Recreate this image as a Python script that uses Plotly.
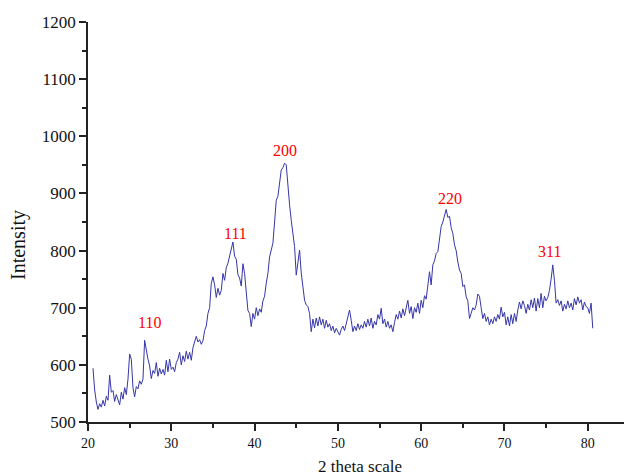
import plotly.graph_objects as go

# 2-theta angles (degrees), step 0.2 from 20.6 to 80.6
two_theta = [round(20.6 + 0.2 * i, 1) for i in range(301)]

intensity = [
    # 20.6 - 21.8
    594, 556, 535, 522, 532, 526, 538,
    # 22.0 - 23.8
    528, 545, 538, 582, 552, 555, 536, 548, 540, 530,
    # 24.0 - 25.8
    552, 540, 560, 548, 575, 619, 610, 560, 544, 562,
    # 26.0 - 27.8
    558, 572, 566, 575, 643, 625, 610, 598, 576, 590,
    # 28.0 - 29.8
    585, 604, 580, 594, 584, 592, 582, 608, 588, 610,
    # 30.0 - 31.8
    592, 596, 588, 604, 610, 622, 600, 616, 606, 624,
    # 32.0 - 33.8
    610, 622, 608, 630, 640, 650, 640, 644, 636, 642,
    # 34.0 - 35.8
    660, 668, 690, 700, 742, 754, 740, 718, 734, 722,
    # 36.0 - 37.8
    730, 760, 748, 770, 778, 790, 800, 815, 790, 785,
    # 38.0 - 39.8
    758, 752, 738, 777, 760, 720, 695, 690, 667, 690,
    # 40.0 - 41.8
    680, 700, 686, 698, 692, 712, 720, 743, 760, 789,
    # 42.0 - 43.8
    800, 813, 850, 888, 895, 920, 941, 945, 953, 950,
    # 44.0 - 45.8
    906, 880, 853, 830, 807, 757, 775, 801, 761, 735,
    # 46.0 - 47.8
    713, 705, 702, 690, 658, 680, 665, 682, 668, 684,
    # 48.0 - 49.8
    670, 680, 664, 678, 666, 672, 660, 668, 656, 664,
    # 50.0 - 51.8
    658, 652, 662, 668, 660, 672, 680, 696, 678, 658,
    # 52.0 - 53.8
    668, 660, 672, 662, 670, 664, 676, 666, 680, 668,
    # 54.0 - 55.8
    682, 664, 676, 670, 688, 680, 699, 672, 680, 666,
    # 56.0 - 57.8
    676, 664, 670, 658, 674, 688, 680, 694, 682, 698,
    # 58.0 - 59.8
    686, 700, 713, 690, 702, 681, 700, 692, 708, 690,
    # 60.0 - 61.8
    713, 700, 721, 715, 735, 763, 740, 775, 782, 795,
    # 62.0 - 63.8
    798, 818, 842, 850, 860, 872, 858, 860, 840, 830,
    # 64.0 - 65.8
    810, 800, 780, 766, 760, 737, 740, 719, 712, 681,
    # 66.0 - 67.8
    690, 700, 696, 705, 724, 720, 700, 681, 690, 676,
    # 68.0 - 69.8
    684, 670, 680, 672, 684, 676, 688, 680, 701, 684,
    # 70.0 - 71.8
    692, 670, 684, 668, 688, 672, 690, 676, 696, 710,
    # 72.0 - 73.8
    698, 712, 704, 690, 706, 696, 714, 700, 717, 694,
    # 74.0 - 75.8
    716, 700, 725, 700, 720, 712, 718, 730, 750, 775,
    # 76.0 - 77.8
    748, 708, 714, 704, 712, 694, 706, 698, 712, 700,
    # 78.0 - 79.8
    708, 696, 716, 705, 719, 708, 714, 696, 710, 702,
    # 80.0 - 80.6
    700, 690, 708, 664,
]

peak_labels = ["110", "111", "200", "220", "311"]
peak_x = [27.4, 37.7, 43.7, 63.4, 75.4]
peak_y = [674, 830, 975, 891, 799]

x_ticks = [20, 30, 40, 50, 60, 70, 80]
y_ticks = [500, 600, 700, 800, 900, 1000, 1100, 1200]

SERIF = "Liberation Serif, Times New Roman, serif"

fig = go.Figure()
fig.add_trace(go.Scatter(
    x=two_theta, y=intensity, mode="lines",
    line=dict(color="#3636a8", width=1),
    showlegend=False, hoverinfo="skip",
))

annotations = []
for lab, px_, py_ in zip(peak_labels, peak_x, peak_y):
    annotations.append(dict(
        x=px_, y=py_, xref="x", yref="y", text=lab, showarrow=False,
        font=dict(family=SERIF, size=16, color="#ff0000"),
        xanchor="center", yanchor="middle",
    ))

# axis titles
annotations.append(dict(
    x=0.507, y=-0.112, xref="paper", yref="paper", text="2 theta scale",
    showarrow=False, font=dict(family=SERIF, size=17, color="#111111"),
    xanchor="center", yanchor="middle",
))
annotations.append(dict(
    x=-0.1306, y=0.4425, xref="paper", yref="paper", text="Intensity",
    showarrow=False, textangle=-90, font=dict(family=SERIF, size=20, color="#111111"),
    xanchor="center", yanchor="middle",
))

fig.update_layout(
    width=624, height=476,
    margin=dict(l=88, r=0, t=22, b=54),
    paper_bgcolor="white", plot_bgcolor="white",
    annotations=annotations,
    xaxis=dict(
        range=[20, 84.35], tickvals=x_ticks, ticktext=[str(v) for v in x_ticks],
        showgrid=False, zeroline=False, showline=True, linecolor="#222222", linewidth=1.5,
        ticks="outside", ticklen=7, tickwidth=1.5, tickcolor="#222222",
        tickfont=dict(family=SERIF, size=14, color="#111111"),
        minor=dict(ticks="outside", ticklen=4, tickwidth=1.5, tickcolor="#222222",
                   tickvals=[25, 35, 45, 55, 65, 75], showgrid=False),
        fixedrange=True,
    ),
    yaxis=dict(
        range=[500, 1200], tickvals=y_ticks, ticktext=[str(v) for v in y_ticks],
        showgrid=False, zeroline=False, showline=True, linecolor="#222222", linewidth=1.5,
        ticks="outside", ticklen=7, tickwidth=1.5, tickcolor="#222222",
        tickfont=dict(family=SERIF, size=17, color="#111111"),
        minor=dict(ticks="outside", ticklen=4, tickwidth=1.5, tickcolor="#222222",
                   tickvals=[550, 650, 750, 850, 950, 1050, 1150], showgrid=False),
        fixedrange=True,
    ),
)

fig.write_html("out.html")
